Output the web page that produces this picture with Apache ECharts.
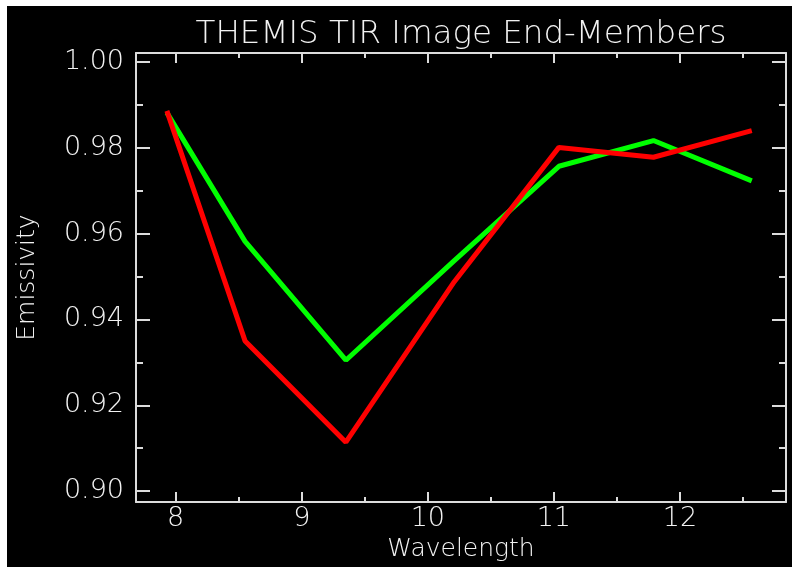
<!DOCTYPE html>
<html>
<head>
<meta charset="utf-8">
<script src="https://cdn.jsdelivr.net/npm/echarts@6/dist/echarts.min.js"></script>
<style>
  html, body { margin: 0; padding: 0; background: #ffffff; }
  #chart { position: absolute; left: 7px; top: 6px; width: 785px; height: 561px; }
</style>
</head>
<body>
<div id="chart"></div>
<script>
// THEMIS TIR band centres (micrometres)
const wavelengths = [7.93, 8.55, 9.35, 10.21, 11.04, 11.79, 12.57];
// End-member emissivity spectra
const greenEmissivity = [0.9882, 0.9582, 0.9305, 0.9537, 0.9757, 0.9817, 0.9723];
const redEmissivity   = [0.9886, 0.9350, 0.9114, 0.9488, 0.9801, 0.9778, 0.9840];
// Tick positions
const xMajorTicks = [8, 9, 10, 11, 12];
const xMinorTicks = [8.5, 9.5, 10.5, 11.5, 12.5];
const yMajorTicks = [0.90, 0.92, 0.94, 0.96, 0.98, 1.00];
const yMinorTicks = [0.91, 0.93, 0.95, 0.97, 0.99];

const titleText = 'THEMIS TIR Image End-Members';
const xName = 'Wavelength';
const yName = 'Emissivity';

const FG = '#f2f2f2';
const LINE = '#dcdcdc';
const FONT = 'DejaVu Sans';
const X_MIN = 7.685, X_MAX = 12.8415;
const Y_MIN = 0.89744, Y_MAX = 1.0021;

function toPairs(xs, ys) { return xs.map((x, i) => [x, ys[i]]); }

function xAxisDef(position, ticks, len, withLine, withLabels) {
  return {
    type: 'value', position: position, min: X_MIN, max: X_MAX,
    splitLine: { show: false },
    axisLine: { show: withLine, lineStyle: { color: LINE, width: 2 } },
    axisTick: { show: true, inside: true, length: len, customValues: ticks,
                lineStyle: { color: LINE, width: 2 } },
    axisLabel: withLabels ? {
      show: true, customValues: xMajorTicks, margin: 3,
      color: FG, fontFamily: FONT, fontSize: 27, fontWeight: 200,
      formatter: v => String(Math.round(v))
    } : { show: false },
    name: withLabels ? xName : '',
    nameLocation: 'middle', nameGap: 29,
    nameTextStyle: { color: FG, fontFamily: FONT, fontSize: 25, fontWeight: 200 }
  };
}

function yAxisDef(position, ticks, len, withLine, withLabels) {
  return {
    type: 'value', position: position, min: Y_MIN, max: Y_MAX,
    splitLine: { show: false },
    axisLine: { show: withLine, lineStyle: { color: LINE, width: 2 } },
    axisTick: { show: true, inside: true, length: len, customValues: ticks,
                lineStyle: { color: LINE, width: 2 } },
    axisLabel: withLabels ? {
      show: true, customValues: yMajorTicks, margin: 12,
      color: FG, fontFamily: FONT, fontSize: 27, fontWeight: 200,
      formatter: v => v.toFixed(2)
    } : { show: false },
    name: withLabels ? yName : '',
    nameLocation: 'middle', nameGap: 96,
    nameTextStyle: { color: FG, fontFamily: FONT, fontSize: 25, fontWeight: 200 }
  };
}

const chart = echarts.init(document.getElementById('chart'), null, { renderer: 'canvas' });
chart.setOption({
  backgroundColor: '#000000',
  animation: false,
  grid: { left: 128, top: 47, right: 6, bottom: 64, containLabel: false },
  graphic: [{
    type: 'text', x: 454, y: 29,
    style: { text: titleText, fill: FG, font: '200 32.5px "DejaVu Sans"',
             align: 'center', verticalAlign: 'middle' }
  }],
  xAxis: [
    xAxisDef('bottom', xMajorTicks, 10, true, true),
    xAxisDef('bottom', xMinorTicks, 5, false, false),
    xAxisDef('top', xMajorTicks, 10, true, false),
    xAxisDef('top', xMinorTicks, 5, false, false)
  ],
  yAxis: [
    yAxisDef('left', yMajorTicks, 14, true, true),
    yAxisDef('left', yMinorTicks, 7, false, false),
    yAxisDef('right', yMajorTicks, 14, true, false),
    yAxisDef('right', yMinorTicks, 7, false, false)
  ],
  series: [
    {
      name: 'Green end-member', type: 'line', xAxisIndex: 0, yAxisIndex: 0,
      data: toPairs(wavelengths, greenEmissivity),
      showSymbol: false, lineStyle: { color: '#00ff00', width: 5 }
    },
    {
      name: 'Red end-member', type: 'line', xAxisIndex: 0, yAxisIndex: 0,
      data: toPairs(wavelengths, redEmissivity),
      showSymbol: false, lineStyle: { color: '#ff0000', width: 5 }
    }
  ]
});
</script>
</body>
</html>
